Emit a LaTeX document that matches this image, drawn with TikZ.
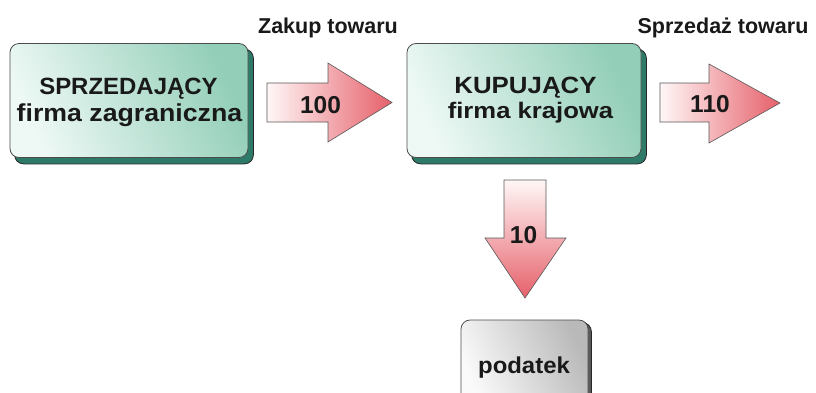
\documentclass[tikz,border=0pt]{standalone}
\usepackage{fontspec}
\setmainfont{Liberation Sans}
\usetikzlibrary{backgrounds}
\definecolor{boxlight}{RGB}{238,249,245}
\definecolor{boxdark}{RGB}{146,206,184}
\definecolor{boxshadow}{RGB}{46,122,104}
\definecolor{arrlight}{RGB}{255,247,247}
\definecolor{arrdark}{RGB}{230,96,106}
\definecolor{graylight}{RGB}{250,250,250}
\definecolor{graydark}{RGB}{185,185,185}
\definecolor{grayshadow}{RGB}{90,90,90}
\definecolor{txt}{RGB}{25,25,25}
\newcommand{\hstr}[2]{\scalebox{#1}[1]{#2}}
\newcommand{\fsz}[1]{\bfseries\fontsize{#1}{#1}\selectfont}
\tikzset{
  firmbox/.style={draw=black!70, line width=0.8pt, rounded corners=9pt,
    left color=boxlight, right color=boxdark, shading angle=115, inner sep=0pt},
  taxbox/.style={draw=black!70, line width=0.8pt, rounded corners=9pt,
    left color=graylight, right color=graydark, shading angle=115, inner sep=0pt},
  firmshadow/.style={draw=black!85, line width=0.8pt, rounded corners=9pt, fill=boxshadow},
  taxshadow/.style={draw=black!85, line width=0.8pt, rounded corners=9pt, fill=grayshadow},
  harrow/.style={draw=black!65, line width=0.6pt, left color=arrlight, right color=arrdark},
  varrow/.style={draw=black!65, line width=0.6pt, top color=arrlight, bottom color=arrdark},
  lbl/.style={text=txt, anchor=base, inner sep=0pt},
}
\begin{document}
\begin{tikzpicture}[x=1pt,y=-1pt]
\useasboundingbox (0,0) rectangle (816,392);
\clip (0,0) rectangle (816,392);

% boxes
\node[firmbox, minimum width=238pt, minimum height=114pt] (sell) at (129,100.5) {};
\node[lbl, font=\fsz{23.5}] (selltop) at (128.5,94) {\hstr{1.02}{SPRZEDAJĄCY}};
\node[lbl, font=\fsz{24.5}] (sellbot) at (129.5,121) {\hstr{1.09}{firma zagraniczna}};

\node[firmbox, minimum width=234pt, minimum height=114pt] (buy) at (524,100.5) {};
\node[lbl, font=\fsz{23.5}] (buytop) at (525.5,93) {\hstr{1.10}{KUPUJĄCY}};
\node[lbl, font=\fsz{22.5}] (buybot) at (530.5,118) {\hstr{1.14}{firma krajowa}};

\node[taxbox, minimum width=127pt, minimum height=82pt] (tax) at (524.5,361) {};
\node[lbl, font=\fsz{23}] (taxlbl) at (524,373) {\hstr{1.04}{podatek}};

\begin{scope}[on background layer]
  \draw[firmshadow] ([shift={(5,6)}]sell.north west) rectangle ([shift={(5,6)}]sell.south east);
  \draw[firmshadow] ([shift={(5,6)}]buy.north west) rectangle ([shift={(5,6)}]buy.south east);
  \draw[taxshadow] ([shift={(3,3)}]tax.north west) rectangle ([shift={(3,3)}]tax.south east);
\end{scope}

% arrows
\draw[harrow] (267,83) -- (328,83) -- (328,63) -- (392,102.5) -- (328,142) -- (328,122) -- (267,122) -- cycle;
\node[lbl, font=\fsz{24.5}] (a1) at (320.5,113) {100};

\draw[harrow] (660,83) -- (709,83) -- (709,64) -- (780,103) -- (709,143) -- (709,122) -- (660,122) -- cycle;
\node[lbl, font=\fsz{24.5}] (a2) at (710,112) {110};

\draw[varrow] (504,180) -- (546,180) -- (546,238) -- (566,238) -- (525,298) -- (485,238) -- (504,238) -- cycle;
\node[lbl, font=\fsz{24.5}] (a3) at (523.5,243) {10};

% captions
\node[lbl, font=\fsz{21.5}] (zakup) at (328,33) {Zakup towaru};
\node[lbl, font=\fsz{21.5}] (sprzedaz) at (723,33) {Sprzedaż towaru};
\end{tikzpicture}
\end{document}
